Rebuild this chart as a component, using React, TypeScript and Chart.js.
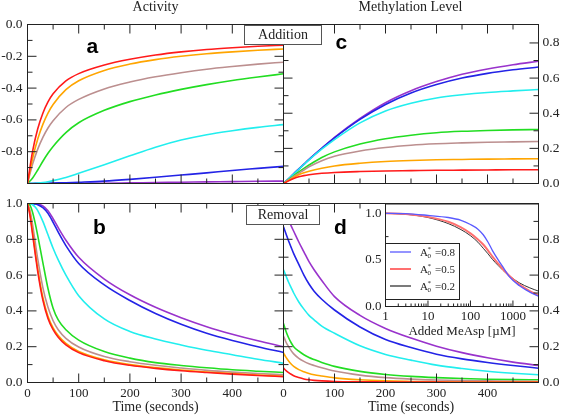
import { useEffect, useRef } from 'react';
import { Chart, registerables } from 'chart.js';

Chart.register(...registerables);

const W = 561;
const H = 416;
const SERIF = "'Liberation Serif', 'Times New Roman', serif";
const SANS = "'Liberation Sans', Arial, sans-serif";
const INK = '#222';

// ---------------- data ----------------
const TIME_ADD = [0, 10, 20, 30, 40, 50, 75, 100, 150, 200, 250, 300, 350, 400, 450, 500];
const TIME_REM = [0, 5, 10, 15, 20, 30, 40, 50, 60, 75, 100, 150, 200, 250, 300, 350, 400, 450, 500];

// (a) activity, addition
const A_RED = [-1, -0.797, -0.656, -0.558, -0.487, -0.436, -0.355, -0.309, -0.255, -0.219, -0.192, -0.172, -0.157, -0.146, -0.137, -0.13];
const A_ORANGE = [-1, -0.841, -0.72, -0.628, -0.557, -0.503, -0.41, -0.354, -0.289, -0.249, -0.221, -0.2, -0.184, -0.172, -0.162, -0.154];
const A_BROWN = [-1, -0.878, -0.784, -0.71, -0.651, -0.605, -0.522, -0.471, -0.405, -0.362, -0.329, -0.303, -0.281, -0.264, -0.249, -0.237];
const A_GREEN = [-1, -0.965, -0.915, -0.86, -0.81, -0.767, -0.68, -0.618, -0.54, -0.485, -0.443, -0.408, -0.378, -0.352, -0.33, -0.31];
const A_CYAN = [-1, -0.999, -0.997, -0.994, -0.989, -0.982, -0.962, -0.936, -0.882, -0.826, -0.772, -0.727, -0.693, -0.668, -0.647, -0.63];
const A_BLUE = [-1, -1, -0.999, -0.999, -0.998, -0.997, -0.995, -0.992, -0.985, -0.974, -0.961, -0.947, -0.933, -0.918, -0.905, -0.892];
const A_PURPLE = [-1, -1, -1, -1, -1, -1, -0.999, -0.999, -0.998, -0.996, -0.994, -0.992, -0.99, -0.988, -0.986, -0.985];

// (c) methylation, addition
const C_RED = [0, 0.015, 0.028, 0.038, 0.045, 0.05, 0.058, 0.063, 0.068, 0.071, 0.073, 0.075, 0.076, 0.077, 0.078, 0.078];
const C_ORANGE = [0, 0.018, 0.035, 0.05, 0.061, 0.07, 0.087, 0.1, 0.115, 0.125, 0.131, 0.135, 0.137, 0.139, 0.14, 0.141];
const C_BROWN = [0, 0.02, 0.04, 0.058, 0.077, 0.095, 0.13, 0.155, 0.185, 0.205, 0.218, 0.226, 0.231, 0.235, 0.237, 0.239];
const C_GREEN = [0, 0.022, 0.044, 0.066, 0.086, 0.105, 0.148, 0.18, 0.225, 0.255, 0.275, 0.289, 0.297, 0.302, 0.305, 0.307];
const C_CYAN = [0, 0.027, 0.054, 0.081, 0.108, 0.134, 0.195, 0.25, 0.345, 0.413, 0.457, 0.487, 0.505, 0.518, 0.527, 0.535];
const C_BLUE = [0, 0.027, 0.055, 0.082, 0.109, 0.136, 0.2, 0.26, 0.365, 0.45, 0.515, 0.563, 0.6, 0.627, 0.647, 0.663];
const C_PURPLE = [0, 0.027, 0.055, 0.083, 0.11, 0.137, 0.2, 0.262, 0.37, 0.46, 0.528, 0.58, 0.622, 0.652, 0.676, 0.696];

// (b) activity, removal
const B_RED = [1, 0.93, 0.825, 0.72, 0.62, 0.46, 0.358, 0.295, 0.253, 0.21, 0.167, 0.122, 0.096, 0.079, 0.066, 0.056, 0.047, 0.039, 0.033];
const B_ORANGE = [1, 0.94, 0.84, 0.735, 0.635, 0.475, 0.37, 0.305, 0.262, 0.218, 0.173, 0.127, 0.1, 0.083, 0.07, 0.059, 0.05, 0.042, 0.035];
const B_BROWN = [1, 0.96, 0.88, 0.785, 0.69, 0.53, 0.42, 0.345, 0.295, 0.247, 0.198, 0.145, 0.116, 0.096, 0.081, 0.068, 0.058, 0.05, 0.043];
const B_GREEN = [1, 0.99, 0.95, 0.89, 0.82, 0.67, 0.525, 0.415, 0.35, 0.295, 0.237, 0.173, 0.136, 0.111, 0.095, 0.082, 0.071, 0.063, 0.056];
const B_CYAN = [1, 0.999, 0.993, 0.98, 0.96, 0.9, 0.825, 0.75, 0.685, 0.6, 0.485, 0.355, 0.285, 0.243, 0.21, 0.18, 0.155, 0.13, 0.108];
const B_BLUE = [1, 1, 0.999, 0.997, 0.993, 0.977, 0.945, 0.895, 0.84, 0.765, 0.665, 0.545, 0.458, 0.385, 0.325, 0.275, 0.235, 0.2, 0.168];
const B_PURPLE = [1, 1, 1, 0.999, 0.997, 0.987, 0.96, 0.915, 0.865, 0.795, 0.7, 0.578, 0.49, 0.42, 0.362, 0.312, 0.27, 0.233, 0.2];

// (d) methylation, removal
const D_RED = [0.08, 0.066, 0.055, 0.046, 0.038, 0.028, 0.02, 0.015, 0.012, 0.009, 0.006, 0.004, 0.003, 0.002, 0.002, 0.001, 0.001, 0.001, 0.001];
const D_ORANGE = [0.165, 0.14, 0.12, 0.103, 0.09, 0.072, 0.06, 0.05, 0.043, 0.036, 0.026, 0.015, 0.009, 0.006, 0.004, 0.003, 0.003, 0.002, 0.002];
const D_BROWN = [0.26, 0.225, 0.2, 0.178, 0.16, 0.135, 0.118, 0.105, 0.095, 0.082, 0.064, 0.041, 0.027, 0.019, 0.014, 0.011, 0.009, 0.007, 0.006];
const D_GREEN = [0.33, 0.285, 0.25, 0.222, 0.2, 0.175, 0.155, 0.14, 0.128, 0.112, 0.09, 0.062, 0.045, 0.034, 0.027, 0.022, 0.018, 0.016, 0.015];
const D_CYAN = [0.63, 0.595, 0.56, 0.53, 0.5, 0.45, 0.41, 0.375, 0.35, 0.315, 0.275, 0.205, 0.157, 0.125, 0.097, 0.078, 0.063, 0.052, 0.043];
const D_BLUE = [0.87, 0.83, 0.79, 0.755, 0.72, 0.66, 0.6, 0.55, 0.51, 0.465, 0.405, 0.31, 0.24, 0.195, 0.158, 0.132, 0.112, 0.095, 0.08];
const D_PURPLE = [0.98, 0.945, 0.91, 0.875, 0.845, 0.785, 0.73, 0.675, 0.63, 0.57, 0.48, 0.375, 0.302, 0.248, 0.203, 0.167, 0.138, 0.114, 0.095];

// inset: response vs added MeAsp
const MEASP = [1, 3, 10, 30, 60, 100, 150, 200, 260, 330, 450, 570, 820, 1400, 2500, 4000];
const IN_A08 = [1.0, 0.997, 0.978, 0.955, 0.925, 0.88, 0.83, 0.77, 0.69, 0.6, 0.5, 0.43, 0.32, 0.225, 0.155, 0.11];
const IN_A05 = [1.0, 0.993, 0.962, 0.91, 0.85, 0.785, 0.72, 0.665, 0.6, 0.535, 0.46, 0.405, 0.33, 0.237, 0.165, 0.12];
const IN_A02 = [1.0, 0.99, 0.955, 0.89, 0.825, 0.76, 0.69, 0.625, 0.565, 0.505, 0.44, 0.393, 0.33, 0.255, 0.2, 0.165];
const LEGEND_A0 = [0.8, 0.5, 0.2];

// tick labels
const TIME_LABELS = [0, 100, 200, 300, 400];
const ACT_ADD_LABELS = [0, -0.2, -0.4, -0.6, -0.8];
const ACT_REM_LABELS = [0, 0.2, 0.4, 0.6, 0.8, 1.0];
const METH_ADD_LABELS = [0, 0.2, 0.4, 0.6, 0.8];
const METH_REM_LABELS = [0, 0.2, 0.4, 0.6, 0.8];
const INSET_X_LABELS = [1, 10, 100, 1000];
const INSET_Y_LABELS = [0, 0.5, 1.0];

// tick marks
const TIME_MAJOR = [100, 200, 300, 400];
const TIME_MINOR = [50, 150, 250, 350, 450];
const ACT_ADD_MAJOR = [-0.2, -0.4, -0.6, -0.8];
const ACT_ADD_MINOR = [-0.1, -0.3, -0.5, -0.7, -0.9];
const UNIT_MAJOR = [0.2, 0.4, 0.6, 0.8];
const UNIT_MINOR = [0.1, 0.3, 0.5, 0.7, 0.9];
const METH_ADD_MINOR = [0.1, 0.3, 0.5, 0.7];
const INSET_X_MAJOR = [10, 100, 1000];
const INSET_X_MINOR = [2, 3, 4, 5, 6, 7, 8, 9, 20, 30, 40, 50, 60, 70, 80, 90, 200, 300, 400, 500, 600, 700, 800, 900, 2000, 3000];
const INSET_Y_MAJOR = [0.5];
const INSET_Y_MINOR = [0.25, 0.75];

const COLORS = ['#ff1a1a', '#ffa500', '#bc8f8f', '#22dd22', '#22eeee', '#2323e6', '#9933cc'];
const IN_COLORS = ['#5a5aff', '#ff7070', '#333333'];

// ---------------- helpers ----------------
type Rect = { l: number; t: number; r: number; b: number };

function text(ctx: CanvasRenderingContext2D, s: string, x: number, y: number, font: string,
  align: CanvasTextAlign = 'center', base: CanvasTextBaseline = 'middle', color = INK) {
  ctx.save();
  ctx.font = font;
  ctx.fillStyle = color;
  ctx.textAlign = align;
  ctx.textBaseline = base;
  ctx.fillText(s, x, y);
  ctx.restore();
}

function boxLabel(ctx: CanvasRenderingContext2D, s: string, x1: number, y1: number, x2: number, y2: number) {
  ctx.save();
  ctx.fillStyle = '#fff';
  ctx.fillRect(x1, y1, x2 - x1, y2 - y1);
  ctx.strokeStyle = '#555';
  ctx.lineWidth = 1;
  ctx.strokeRect(x1, y1, x2 - x1, y2 - y1);
  ctx.restore();
  text(ctx, s, (x1 + x2) / 2, (y1 + y2) / 2 + 0.5, `14px ${SERIF}`);
}

function fmt1(v: number) {
  return Math.abs(v) < 1e-9 ? '0.0' : v.toFixed(1);
}

function makeChart(canvas: HTMLCanvasElement, s: any, all: Chart[]) {
  const r: Rect = s.rect;
  const left = s.ySide === 'left';
  const padding = {
    left: left ? r.l - s.yW : r.l,
    right: left ? W - r.r : W - r.r - s.yW,
    top: r.t,
    bottom: H - r.b - (s.xLabels ? s.xH : 0),
  };
  const datasets = s.series.map((d: any) => ({
    data: d.xs.map((x: number, i: number) => ({ x, y: d.ys[i] })),
    borderColor: d.color,
    borderWidth: d.width,
    pointRadius: 0,
    fill: false,
    cubicInterpolationMode: 'monotone',
  }));
  const framePlugin = {
    id: 'frame' + s.id,
    beforeDraw(chart: any) {
      if (s.background) {
        const ca = chart.chartArea;
        const ctx = chart.ctx;
        ctx.save();
        ctx.fillStyle = '#fff';
        ctx.fillRect(ca.left, ca.top, ca.right - ca.left, ca.bottom - ca.top);
        ctx.restore();
      }
    },
    afterDraw(chart: any) {
      const ctx = chart.ctx;
      const ca = chart.chartArea;
      const xs = chart.scales.x;
      const ys = chart.scales.y;
      const sides = s.sides;
      ctx.save();
      ctx.strokeStyle = INK;
      ctx.lineWidth = 1;
      ctx.beginPath();
      const xt = (vals: number[], len: number) => vals.forEach((v) => {
        const px = xs.getPixelForValue(v);
        if (sides.top) { ctx.moveTo(px, ca.top); ctx.lineTo(px, ca.top + len); }
        if (sides.bottom) { ctx.moveTo(px, ca.bottom); ctx.lineTo(px, ca.bottom - len); }
      });
      const yt = (vals: number[], len: number) => vals.forEach((v) => {
        const py = ys.getPixelForValue(v);
        if (sides.left) { ctx.moveTo(ca.left, py); ctx.lineTo(ca.left + len, py); }
        if (sides.right) { ctx.moveTo(ca.right, py); ctx.lineTo(ca.right - len, py); }
      });
      xt(s.xMajor, s.majLen);
      xt(s.xMinor, s.minLen);
      yt(s.yMajor, s.majLen);
      yt(s.yMinor, s.minLen);
      ctx.stroke();
      ctx.strokeRect(ca.left, ca.top, ca.right - ca.left, ca.bottom - ca.top);
      ctx.restore();
      if (s.extra) s.extra(chart, all);
    },
  };
  const cfg: any = {
    type: 'line',
    data: { datasets },
    options: {
      responsive: false,
      animation: false,
      events: [],
      layout: { padding, autoPadding: false },
      plugins: { legend: { display: false }, tooltip: { enabled: false }, title: { display: false } },
      scales: {
        x: {
          type: s.xType || 'linear',
          min: s.xMin,
          max: s.xMax,
          bounds: 'data',
          position: 'bottom',
          display: !!s.xLabels,
          grid: { display: false, drawTicks: false },
          border: { display: false },
          afterBuildTicks: (sc: any) => {
            if (s.xLabels) sc.ticks = s.xLabels.map((v: number) => ({ value: v }));
          },
          afterFit: (sc: any) => {
            sc.height = s.xH;
            sc.paddingLeft = 0;
            sc.paddingRight = 0;
          },
          ticks: {
            autoSkip: false,
            maxRotation: 0,
            minRotation: 0,
            padding: s.xPad,
            color: INK,
            font: { family: SERIF, size: s.xFont },
            callback: (v: number) => String(v),
          },
        },
        y: {
          type: 'linear',
          min: s.yMin,
          max: s.yMax,
          bounds: 'data',
          position: s.ySide,
          grid: { display: false, drawTicks: false },
          border: { display: false },
          afterBuildTicks: (sc: any) => {
            sc.ticks = s.yLabels.map((v: number) => ({ value: v }));
          },
          afterFit: (sc: any) => {
            sc.width = s.yW;
            sc.paddingTop = 0;
            sc.paddingBottom = 0;
          },
          ticks: {
            autoSkip: false,
            padding: s.yPad,
            color: INK,
            font: { family: SERIF, size: s.yFont },
            callback: (v: number) => fmt1(v),
          },
        },
      },
    },
    plugins: [framePlugin],
  };
  return new Chart(canvas, cfg);
}

const series7 = (xs: number[], arrs: number[][]) =>
  arrs.map((ys, i) => ({ xs, ys, color: COLORS[i], width: 1.6 }));

const ALL_SIDES = { top: true, bottom: true, left: true, right: true };

const RECT_A: Rect = { l: 27.5, t: 24.5, r: 283.5, b: 203.5 };
const RECT_C: Rect = { l: 283.5, t: 24.5, r: 538.5, b: 203.5 };
const RECT_B: Rect = { l: 27.5, t: 203.5, r: 283.5, b: 382.5 };
const RECT_D: Rect = { l: 283.5, t: 203.5, r: 538.5, b: 382.5 };
const RECT_IN: Rect = { l: 385.5, t: 204, r: 538.5, b: 306.5 };

const base = {
  xMin: 0, xMax: 500, xH: 20, xFont: 13, xPad: 3, yFont: 13.5,
  xMajor: TIME_MAJOR, xMinor: TIME_MINOR, majLen: 9, minLen: 5, sides: ALL_SIDES,
};

const SPECS: any[] = [
  {
    ...base, id: 'a', rect: RECT_A, yMin: -1, yMax: 0, ySide: 'left', yW: 27.5, yPad: 5,
    yLabels: ACT_ADD_LABELS, xLabels: null,
    yMajor: ACT_ADD_MAJOR, yMinor: ACT_ADD_MINOR,
    series: series7(TIME_ADD, [A_RED, A_ORANGE, A_BROWN, A_GREEN, A_CYAN, A_BLUE, A_PURPLE]),
    extra: (chart: any) => {
      const ctx = chart.ctx;
      text(ctx, 'Activity', 155.5, 7.5, `14px ${SERIF}`);
      text(ctx, 'a', 86.5, 52.5, `bold 21px ${SANS}`, 'left', 'alphabetic', '#000');
    },
  },
  {
    ...base, id: 'c', rect: RECT_C, yMin: 0, yMax: 0.905, ySide: 'right', yW: 22.5, yPad: 4,
    yLabels: METH_ADD_LABELS, xLabels: null,
    yMajor: UNIT_MAJOR, yMinor: METH_ADD_MINOR,
    series: series7(TIME_ADD, [C_RED, C_ORANGE, C_BROWN, C_GREEN, C_CYAN, C_BLUE, C_PURPLE]),
    extra: (chart: any) => {
      const ctx = chart.ctx;
      text(ctx, 'Methylation Level', 410.5, 7.5, `14px ${SERIF}`);
      text(ctx, 'c', 335.5, 48.5, `bold 21px ${SANS}`, 'left', 'alphabetic', '#000');
      boxLabel(ctx, 'Addition', 244.5, 25.5, 321.5, 44.5);
    },
  },
  {
    ...base, id: 'b', rect: RECT_B, yMin: 0, yMax: 1, ySide: 'left', yW: 27.5, yPad: 5,
    yLabels: ACT_REM_LABELS, xLabels: TIME_LABELS,
    yMajor: UNIT_MAJOR, yMinor: UNIT_MINOR,
    series: series7(TIME_REM, [B_RED, B_ORANGE, B_BROWN, B_GREEN, B_CYAN, B_BLUE, B_PURPLE]),
    extra: (chart: any) => {
      const ctx = chart.ctx;
      text(ctx, 'Time (seconds)', 155.5, 407, `14px ${SERIF}`);
      text(ctx, 'b', 93, 233.5, `bold 21px ${SANS}`, 'left', 'alphabetic', '#000');
    },
  },
  {
    ...base, id: 'd', rect: RECT_D, yMin: 0, yMax: 1, ySide: 'right', yW: 22.5, yPad: 4,
    yLabels: METH_REM_LABELS, xLabels: TIME_LABELS,
    yMajor: UNIT_MAJOR, yMinor: UNIT_MINOR,
    series: series7(TIME_REM, [D_RED, D_ORANGE, D_BROWN, D_GREEN, D_CYAN, D_BLUE, D_PURPLE]),
    extra: (chart: any) => {
      const ctx = chart.ctx;
      text(ctx, 'Time (seconds)', 411, 407, `14px ${SERIF}`);
      text(ctx, 'd', 334, 233.5, `bold 21px ${SANS}`, 'left', 'alphabetic', '#000');
      boxLabel(ctx, 'Removal', 246.5, 205.5, 319.5, 224.5);
    },
  },
  {
    id: 'inset', rect: RECT_IN, background: true,
    xType: 'logarithmic', xMin: 1, xMax: 4000, xH: 18, xFont: 13, xPad: 2, xLabels: INSET_X_LABELS,
    yMin: 0, yMax: 1.1, ySide: 'left', yW: 30, yPad: 4, yFont: 13, yLabels: INSET_Y_LABELS,
    xMajor: INSET_X_MAJOR, xMinor: INSET_X_MINOR, yMajor: INSET_Y_MAJOR, yMinor: INSET_Y_MINOR,
    majLen: 6, minLen: 3, sides: { top: false, bottom: true, left: true, right: false },
    series: [
      { xs: MEASP, ys: IN_A08, color: IN_COLORS[0], width: 1.3 },
      { xs: MEASP, ys: IN_A05, color: IN_COLORS[1], width: 2 },
      { xs: MEASP, ys: IN_A02, color: IN_COLORS[2], width: 1 },
    ],
    extra: (chart: any, all: Chart[]) => {
      const ctx = chart.ctx;
      const ca = chart.chartArea;
      // right-edge ticks of panel d that show through the inset
      const dChart: any = all[3];
      if (dChart) {
        const dy = dChart.scales.y;
        ctx.save();
        ctx.strokeStyle = INK;
        ctx.lineWidth = 1;
        ctx.beginPath();
        [...UNIT_MAJOR.map((v) => [v, 9]), ...UNIT_MINOR.map((v) => [v, 5])].forEach(([v, len]) => {
          const py = dy.getPixelForValue(v);
          if (py > ca.top && py < ca.bottom) { ctx.moveTo(ca.right, py); ctx.lineTo(ca.right - len, py); }
        });
        ctx.stroke();
        ctx.restore();
      }
      text(ctx, 'Added MeAsp [µM]', (ca.left + ca.right) / 2, 332, `13px ${SERIF}`);
      // legend
      const lx1 = ca.left, ly1 = 243.5, lx2 = 459.5, ly2 = 299.5;
      ctx.save();
      ctx.fillStyle = '#fff';
      ctx.fillRect(lx1, ly1, lx2 - lx1, ly2 - ly1);
      ctx.strokeStyle = INK;
      ctx.lineWidth = 1;
      ctx.strokeRect(lx1, ly1, lx2 - lx1, ly2 - ly1);
      ctx.restore();
      LEGEND_A0.forEach((a0, i) => {
        const y = 252 + i * 17;
        ctx.save();
        ctx.strokeStyle = IN_COLORS[i];
        ctx.lineWidth = i === 1 ? 2 : 1.3;
        ctx.beginPath();
        ctx.moveTo(390, y);
        ctx.lineTo(411, y);
        ctx.stroke();
        ctx.restore();
        text(ctx, 'A', 420, y + 4, `11px ${SERIF}`, 'left', 'alphabetic');
        text(ctx, '*', 427.5, y - 1, `7px ${SERIF}`, 'left', 'alphabetic');
        text(ctx, '0', 427.5, y + 6, `7px ${SERIF}`, 'left', 'alphabetic');
        text(ctx, '=' + a0.toFixed(1), 435, y + 4, `11px ${SERIF}`, 'left', 'alphabetic');
      });
    },
  },
];

export default function App() {
  const refs = useRef<(HTMLCanvasElement | null)[]>([]);
  useEffect(() => {
    const charts: Chart[] = [];
    SPECS.forEach((s, i) => {
      const c = refs.current[i];
      if (c) charts.push(makeChart(c, s, charts));
    });
    return () => charts.forEach((c) => c.destroy());
  }, []);
  return (
    <div style={{ position: 'fixed', left: 0, top: 0, width: W, height: H, background: '#fff' }}>
      {SPECS.map((s, i) => (
        <canvas
          key={s.id}
          ref={(el) => { refs.current[i] = el; }}
          width={W}
          height={H}
          style={{ position: 'absolute', left: 0, top: 0, width: W, height: H }}
        />
      ))}
    </div>
  );
}
